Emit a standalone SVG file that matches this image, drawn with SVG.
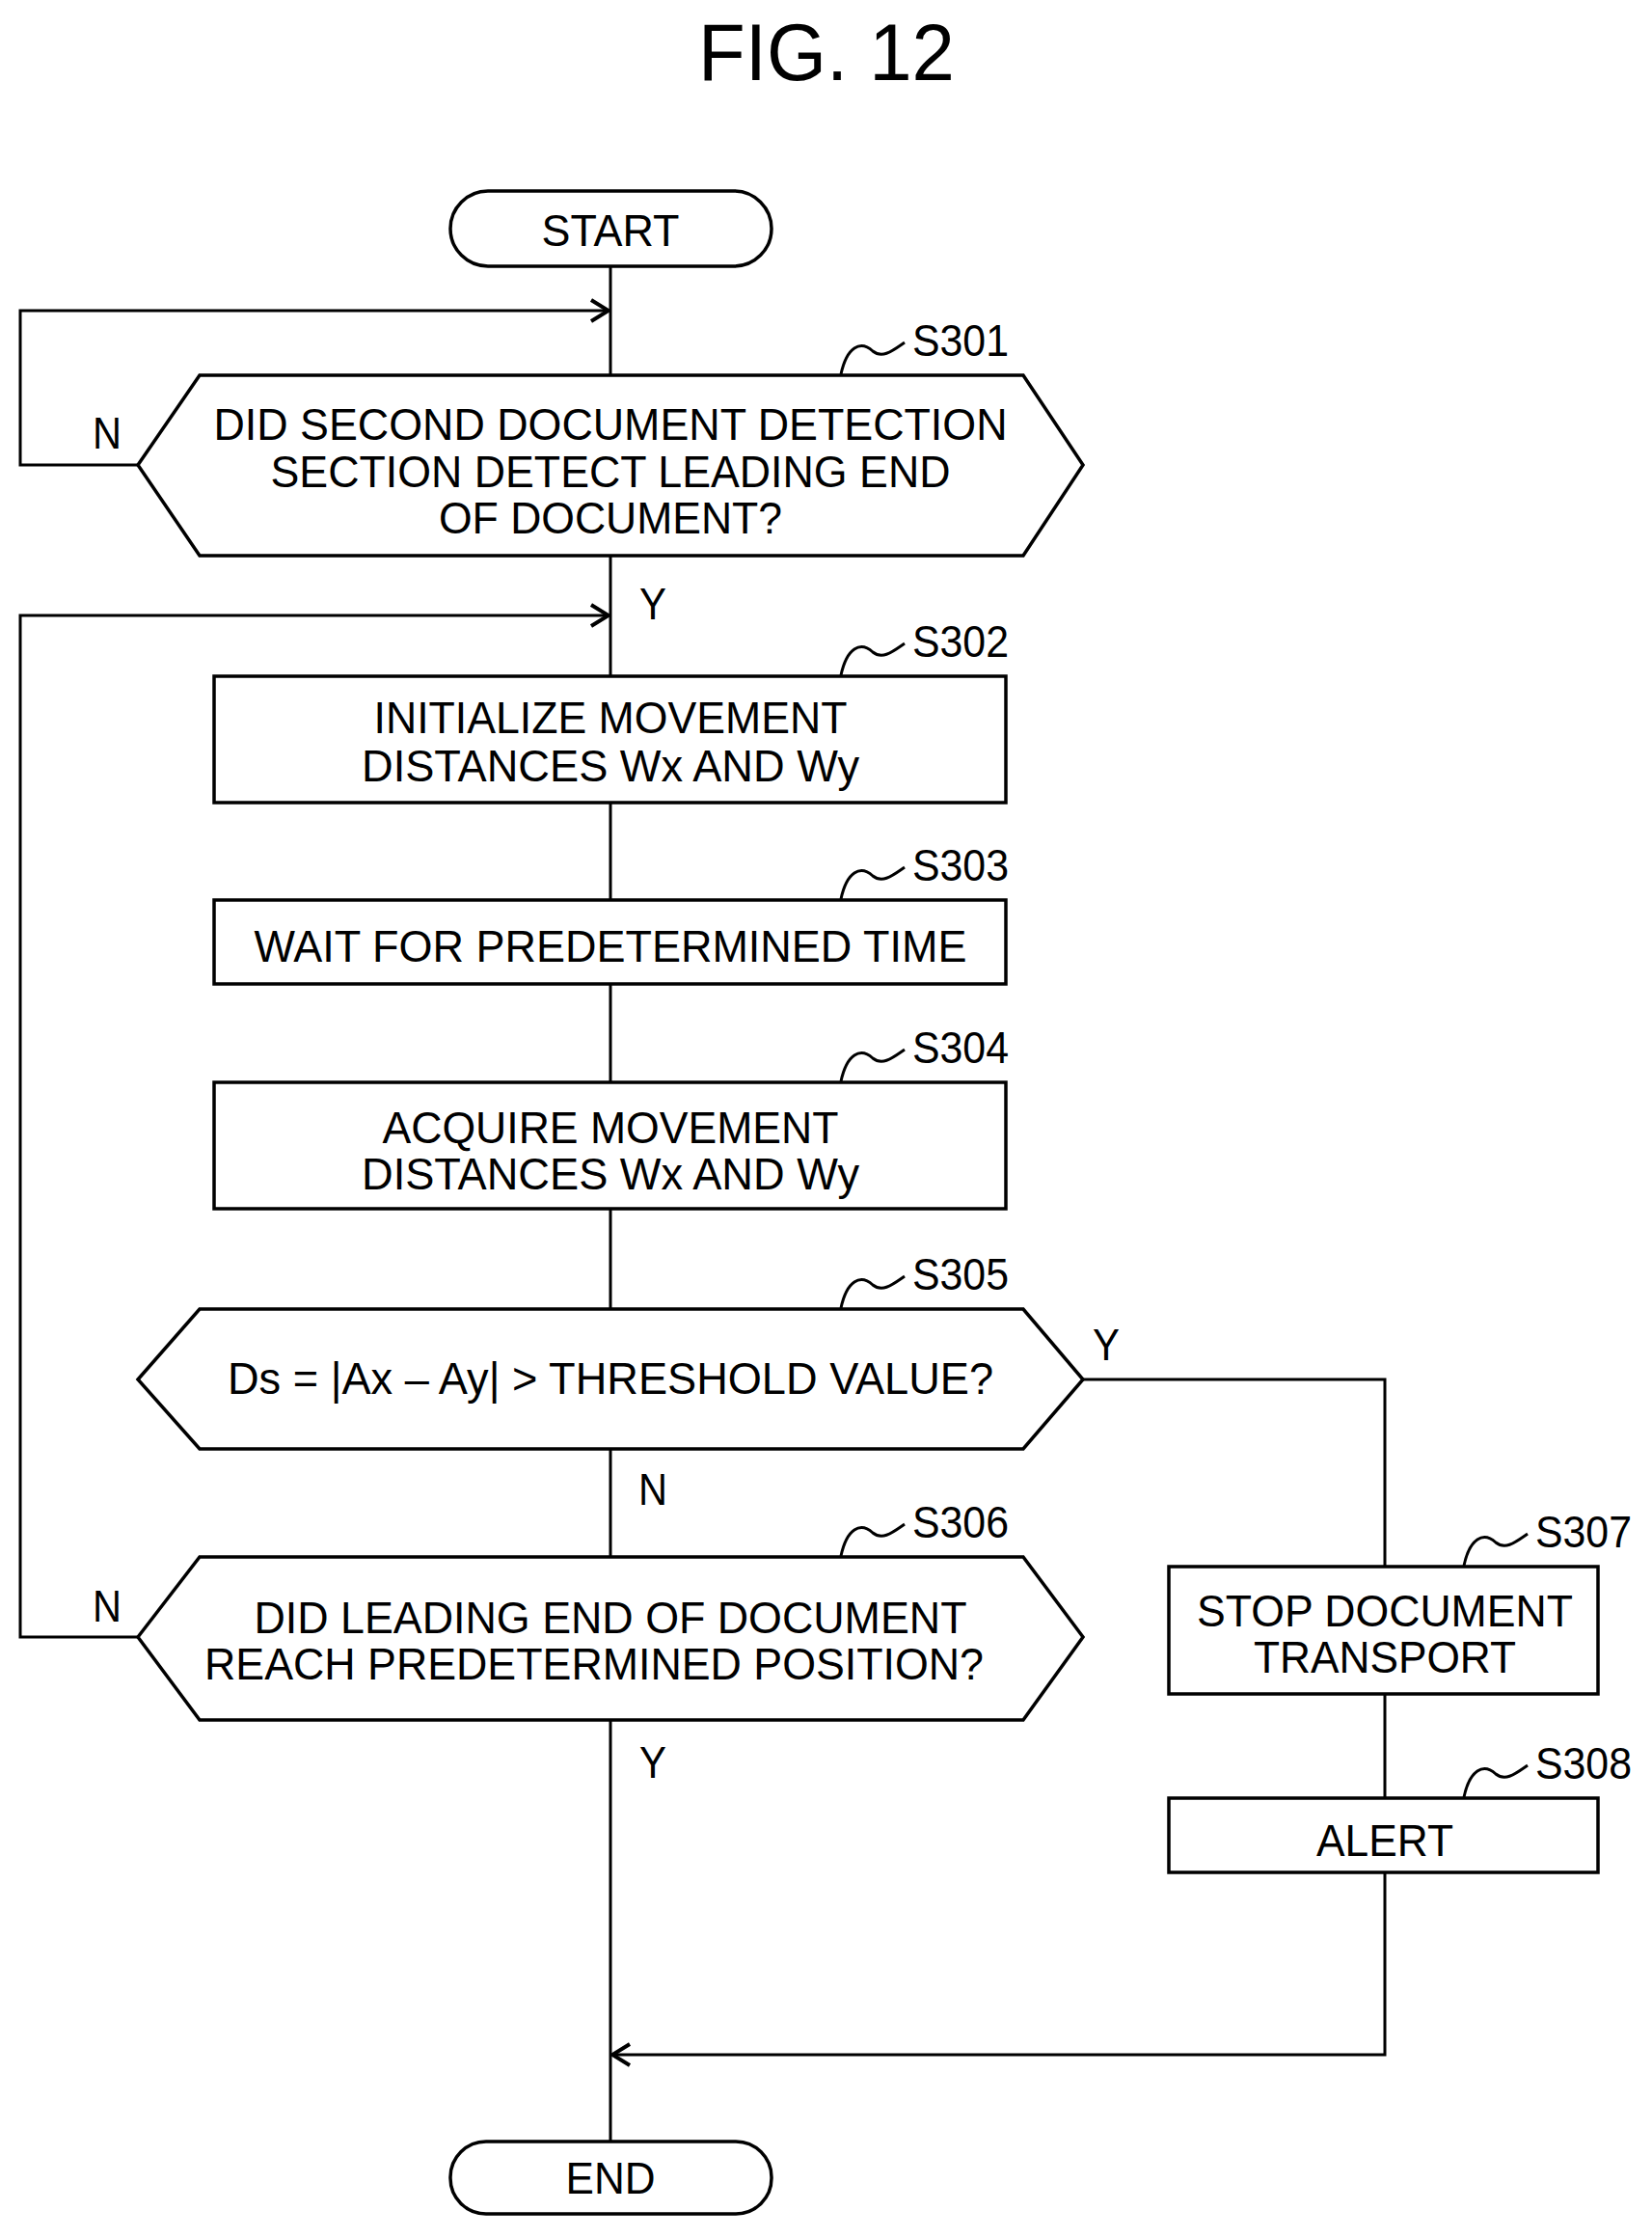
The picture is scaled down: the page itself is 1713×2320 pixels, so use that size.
<svg xmlns="http://www.w3.org/2000/svg" width="1713" height="2320" viewBox="0 0 1713 2320">
<style>
.s{fill:#fff;stroke:#000;stroke-width:3.5}
.c{fill:none;stroke:#000;stroke-width:3}
text{font-family:"Liberation Sans",Arial,sans-serif;font-size:47px;text-anchor:middle;fill:#000}
.l{text-anchor:start}
.t{font-size:84px}
</style>
<defs><marker id="a" markerWidth="22" markerHeight="26" refX="20" refY="13" orient="auto" markerUnits="userSpaceOnUse"><path d="M2,2 L20,13 L2,24" fill="none" stroke="#000" stroke-width="4"/></marker></defs>
<rect width="1713" height="2320" fill="#fff"/>
<text class="t" x="857" y="83" textLength="266" lengthAdjust="spacingAndGlyphs">FIG. 12</text>
<g id="connectors">
<path class="c" d="M633,276 V389"/>
<path class="c" d="M143,482 H21 V322 H631" marker-end="url(#a)"/>
<path class="c" d="M633,576 V701"/>
<path class="c" d="M143,1697 H21 V638 H631" marker-end="url(#a)"/>
<path class="c" d="M633,832 V933 M633,1020 V1122 M633,1253 V1357 M633,1502 V1614 M633,1783 V2220"/>
<path class="c" d="M1123,1430 H1436 V1624 M1436,1756 V1864"/>
<path class="c" d="M1436,1941 V2130 H635" marker-end="url(#a)"/>
<text x="111" y="465" textLength="30" lengthAdjust="spacingAndGlyphs">N</text>
<text x="677" y="642" textLength="28" lengthAdjust="spacingAndGlyphs">Y</text>
<text x="1147" y="1410" textLength="28" lengthAdjust="spacingAndGlyphs">Y</text>
<text x="677" y="1560" textLength="30" lengthAdjust="spacingAndGlyphs">N</text>
<text x="111" y="1681" textLength="30" lengthAdjust="spacingAndGlyphs">N</text>
<text x="677" y="1843" textLength="28" lengthAdjust="spacingAndGlyphs">Y</text>
</g>
<g id="start"><rect class="s" x="467" y="198" width="333" height="78" rx="39"/><text x="633" y="255" textLength="143" lengthAdjust="spacingAndGlyphs">START</text></g>
<g id="s301"><polygon class="s" points="143,482 207,389 1061,389 1123,482 1061,576 207,576"/>
<text x="633" y="456" textLength="823" lengthAdjust="spacingAndGlyphs">DID SECOND DOCUMENT DETECTION</text>
<text x="633" y="505" textLength="705" lengthAdjust="spacingAndGlyphs">SECTION DETECT LEADING END</text>
<text x="633" y="553" textLength="356" lengthAdjust="spacingAndGlyphs">OF DOCUMENT?</text>
<path class="c" d="M872,388 C878,360 892,352 905,364 C915,372 925,364 938,355"/>
<text class="l" x="946" y="369" textLength="100" lengthAdjust="spacingAndGlyphs">S301</text></g>
<g id="s302"><rect class="s" x="222" y="701" width="821" height="131"/>
<text x="633" y="760" textLength="491" lengthAdjust="spacingAndGlyphs">INITIALIZE MOVEMENT</text>
<text x="633" y="810" textLength="516" lengthAdjust="spacingAndGlyphs">DISTANCES Wx AND Wy</text>
<path class="c" d="M872,700 C878,672 892,664 905,676 C915,684 925,676 938,667"/>
<text class="l" x="946" y="681" textLength="100" lengthAdjust="spacingAndGlyphs">S302</text></g>
<g id="s303"><rect class="s" x="222" y="933" width="821" height="87"/>
<text x="633" y="997" textLength="739" lengthAdjust="spacingAndGlyphs">WAIT FOR PREDETERMINED TIME</text>
<path class="c" d="M872,932 C878,904 892,896 905,908 C915,916 925,908 938,899"/>
<text class="l" x="946" y="913" textLength="100" lengthAdjust="spacingAndGlyphs">S303</text></g>
<g id="s304"><rect class="s" x="222" y="1122" width="821" height="131"/>
<text x="633" y="1185" textLength="473" lengthAdjust="spacingAndGlyphs">ACQUIRE MOVEMENT</text>
<text x="633" y="1233" textLength="516" lengthAdjust="spacingAndGlyphs">DISTANCES Wx AND Wy</text>
<path class="c" d="M872,1121 C878,1093 892,1085 905,1097 C915,1105 925,1097 938,1088"/>
<text class="l" x="946" y="1102" textLength="100" lengthAdjust="spacingAndGlyphs">S304</text></g>
<g id="s305"><polygon class="s" points="143,1430 207,1357 1061,1357 1123,1430 1061,1502 207,1502"/>
<text x="633" y="1445" textLength="794" lengthAdjust="spacingAndGlyphs">Ds = |Ax – Ay| &gt; THRESHOLD VALUE?</text>
<path class="c" d="M872,1356 C878,1328 892,1320 905,1332 C915,1340 925,1332 938,1323"/>
<text class="l" x="946" y="1337" textLength="100" lengthAdjust="spacingAndGlyphs">S305</text></g>
<g id="s306"><polygon class="s" points="143,1697 207,1614 1061,1614 1123,1697 1061,1783 207,1783"/>
<text x="633" y="1693" textLength="739" lengthAdjust="spacingAndGlyphs">DID LEADING END OF DOCUMENT</text>
<text x="616" y="1741" textLength="808" lengthAdjust="spacingAndGlyphs">REACH PREDETERMINED POSITION?</text>
<path class="c" d="M872,1613 C878,1585 892,1577 905,1589 C915,1597 925,1589 938,1580"/>
<text class="l" x="946" y="1594" textLength="100" lengthAdjust="spacingAndGlyphs">S306</text></g>
<g id="s307"><rect class="s" x="1212" y="1624" width="445" height="132"/>
<text x="1436" y="1686" textLength="390" lengthAdjust="spacingAndGlyphs">STOP DOCUMENT</text>
<text x="1436" y="1734" textLength="272" lengthAdjust="spacingAndGlyphs">TRANSPORT</text>
<path class="c" d="M1518,1623 C1524,1595 1538,1587 1551,1599 C1561,1607 1571,1599 1584,1590"/>
<text class="l" x="1592" y="1604" textLength="100" lengthAdjust="spacingAndGlyphs">S307</text></g>
<g id="s308"><rect class="s" x="1212" y="1864" width="445" height="77"/>
<text x="1436" y="1924" textLength="142" lengthAdjust="spacingAndGlyphs">ALERT</text>
<path class="c" d="M1518,1863 C1524,1835 1538,1827 1551,1839 C1561,1847 1571,1839 1584,1830"/>
<text class="l" x="1592" y="1844" textLength="100" lengthAdjust="spacingAndGlyphs">S308</text></g>
<g id="end"><rect class="s" x="467" y="2220" width="333" height="75" rx="37"/><text x="633" y="2274" textLength="93" lengthAdjust="spacingAndGlyphs">END</text></g>
</svg>
